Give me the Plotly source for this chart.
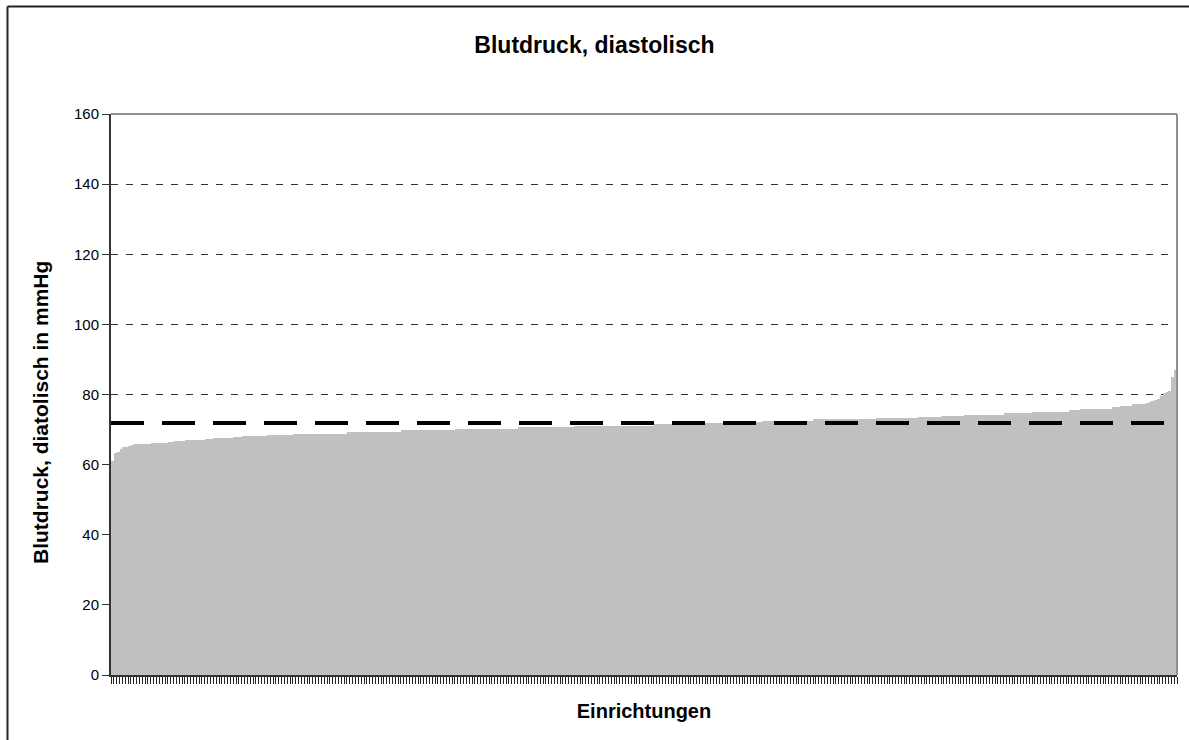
import plotly.graph_objects as go

# Diastolic blood pressure per facility (sorted ascending), mmHg
values = [
    61.0,
    63.3, 63.5,
    64.6,
    64.9, 65.0,
    65.3,
    65.7, 65.8, 65.8, 65.9, 65.9, 66.0, 66.0,
    66.1, 66.1, 66.2, 66.2, 66.3, 66.3,
    66.5, 66.5, 66.6, 66.6, 66.7, 66.7,
    66.9, 66.9, 67.0, 67.0, 67.0, 67.1, 67.1, 67.2,
    67.4, 67.4, 67.5, 67.5, 67.5, 67.6, 67.6, 67.7, 67.7,
    68.0, 68.0, 68.0, 68.1, 68.1, 68.1, 68.1, 68.2, 68.2, 68.2, 68.2, 68.3,
    68.4, 68.4, 68.4, 68.4, 68.5, 68.5, 68.5, 68.5, 68.5, 68.6, 68.6, 68.6,
    68.7, 68.7, 68.7, 68.7, 68.7, 68.7, 68.7, 68.7,
    68.8, 68.8, 68.8, 68.8, 68.8, 68.8, 68.8, 68.8,
    69.2, 69.2, 69.2, 69.2, 69.2, 69.2,
    69.3, 69.3, 69.3, 69.3, 69.3, 69.3, 69.3,
    69.4, 69.4, 69.4, 69.4, 69.4, 69.4,
    69.8, 69.8, 69.8, 69.8, 69.8, 69.8,
    69.9, 69.9, 69.9, 69.9, 69.9, 69.9, 69.9,
    70.0, 70.0, 70.0, 70.0, 70.0, 70.0,
    70.2, 70.2, 70.2, 70.2, 70.2, 70.2, 70.2, 70.2, 70.2, 70.2, 70.2,
    70.3, 70.3, 70.3, 70.3, 70.3, 70.3, 70.3, 70.3, 70.3, 70.3, 70.3,
    70.6, 70.6, 70.6, 70.6, 70.6, 70.6, 70.6,
    70.7, 70.7, 70.7, 70.7, 70.7, 70.7, 70.7,
    70.8, 70.8, 70.8, 70.8, 70.8, 70.8,
    71.0, 71.0, 71.0, 71.0, 71.0, 71.0, 71.0, 71.0, 71.0, 71.0, 71.0, 71.0, 71.0, 71.0,
    71.1, 71.1, 71.1, 71.1, 71.1, 71.1, 71.1, 71.1, 71.1, 71.1, 71.1, 71.1, 71.1, 71.1,
    71.5, 71.5, 71.5, 71.5, 71.5, 71.5, 71.5, 71.5, 71.5,
    71.6, 71.6, 71.6, 71.6, 71.6, 71.6, 71.6, 71.6, 71.6,
    71.9, 71.9, 71.9, 71.9, 71.9, 71.9, 71.9, 71.9, 71.9,
    72.0, 72.0, 72.0, 72.0, 72.0, 72.0, 72.0, 72.0, 72.0,
    72.2, 72.2,
    72.4, 72.4, 72.4, 72.4, 72.4, 72.4, 72.4, 72.4, 72.4,
    72.5, 72.5, 72.5, 72.5, 72.5, 72.5, 72.5, 72.5, 72.5,
    72.9, 72.9, 72.9, 72.9, 72.9, 72.9, 72.9, 72.9, 72.9, 72.9, 72.9,
    73.0, 73.0, 73.0, 73.0, 73.0, 73.0, 73.0, 73.0, 73.0, 73.0, 73.0,
    73.3, 73.3, 73.3, 73.3, 73.3, 73.3, 73.3,
    73.4, 73.4, 73.4, 73.4, 73.4, 73.4, 73.4, 73.4,
    73.7, 73.7, 73.7, 73.7, 73.7, 73.7, 73.7, 73.7,
    73.8, 73.8, 73.8, 73.8, 73.8, 73.8, 73.8, 73.8,
    74.1, 74.1, 74.1, 74.1, 74.1, 74.1, 74.1,
    74.2, 74.2, 74.2, 74.2, 74.2, 74.2, 74.2,
    74.6, 74.6, 74.6, 74.6, 74.6,
    74.7, 74.7, 74.7, 74.7, 74.7,
    75.0, 75.0, 75.0, 75.0, 75.0, 75.0, 75.0,
    75.1, 75.1, 75.1, 75.1, 75.1, 75.1,
    75.7, 75.7, 75.7, 75.7,
    75.8, 75.8, 75.8, 75.8, 75.8,
    76.0, 76.0, 76.0, 76.0, 76.0, 76.0,
    76.4, 76.4, 76.4,
    76.7, 76.7, 76.7, 76.7,
    77.2, 77.3, 77.3, 77.4, 77.4,
    77.7, 77.8,
    78.2, 78.3,
    78.8,
    79.7,
    80.5,
    80.8, 81.0,
    85.0,
    87.0,
]
facilities = list(range(len(values)))
mean_value = 71.9  # dashed reference line

y_ticks = [0, 20, 40, 60, 80, 100, 120, 140, 160]

FONT = "Arial, 'Liberation Sans', sans-serif"

fig = go.Figure()
fig.add_trace(go.Bar(
    x=facilities, y=values,
    marker=dict(color="#C0C0C0", line=dict(width=0)),
    showlegend=False, hoverinfo="y",
))
fig.add_trace(go.Scatter(
    x=[facilities[0] - 0.5, facilities[-1] + 0.5],
    y=[mean_value, mean_value],
    mode="lines",
    line=dict(color="black", width=4, dash="33px,18px"),
    showlegend=False, hoverinfo="skip",
))

fig.update_layout(
    width=1189, height=740,
    margin=dict(l=111, r=12, t=114, b=65),
    paper_bgcolor="white", plot_bgcolor="white",
    bargap=0,
    font=dict(family=FONT, color="black", size=14),
    title=dict(
        text="<b>Blutdruck, diastolisch</b>",
        x=0.5, xanchor="center", xref="container",
        y=1 - 45 / 740, yref="container", yanchor="middle",
        font=dict(size=23, family=FONT, color="black"),
    ),
    xaxis=dict(
        range=[-0.5, len(values) - 0.5],
        tickmode="linear", tick0=-0.5, dtick=1,
        ticks="outside", ticklen=7, tickcolor="#222222", tickwidth=1,
        showticklabels=False,
        showgrid=False, zeroline=False,
        showline=True, linecolor="#333333", linewidth=2,
        title=dict(text="<b>Einrichtungen</b>", standoff=21,
                   font=dict(size=20, family=FONT)),
    ),
    yaxis=dict(
        range=[0, 160],
        tickmode="array", tickvals=y_ticks, ticktext=[str(v) for v in y_ticks],
        ticks="outside", ticklen=7, tickcolor="#333333", tickwidth=1,
        tickfont=dict(size=15, family=FONT),
        showgrid=True, gridcolor="#333333", gridwidth=1, griddash="7px,8px",
        zeroline=False,
        showline=True, linecolor="#333333", linewidth=2,
    ),
    annotations=[
        dict(text="<b>Blutdruck, diatolisch in mmHg</b>",
             xref="paper", yref="paper",
             x=(40 - 111) / 1066, y=(675 - 413) / 561,
             xanchor="center", yanchor="middle",
             textangle=-90, showarrow=False,
             font=dict(size=21, family=FONT, color="black")),
    ],
    shapes=[
        # grey plot-area border (top and right)
        dict(type="line", xref="paper", yref="paper", x0=0, x1=1, y0=1, y1=1,
             line=dict(color="#909090", width=2), layer="above"),
        dict(type="line", xref="paper", yref="paper", x0=1, x1=1, y0=0, y1=1,
             line=dict(color="#909090", width=2), layer="above"),
        # outer chart border (top and left)
        dict(type="line", xref="paper", yref="paper",
             x0=(7.5 - 111) / 1066, x1=(1200 - 111) / 1066,
             y0=(675 - 6.5) / 561, y1=(675 - 6.5) / 561,
             line=dict(color="#222222", width=2)),
        dict(type="line", xref="paper", yref="paper",
             x0=(7.5 - 111) / 1066, x1=(7.5 - 111) / 1066,
             y0=(675 - 6.5) / 561, y1=(675 - 760) / 561,
             line=dict(color="#222222", width=2)),
    ],
)

fig.write_html(
    "out.html",
    config={"displayModeBar": False},
    post_script="document.body.style.margin='0';document.body.style.overflow='hidden';",
)
